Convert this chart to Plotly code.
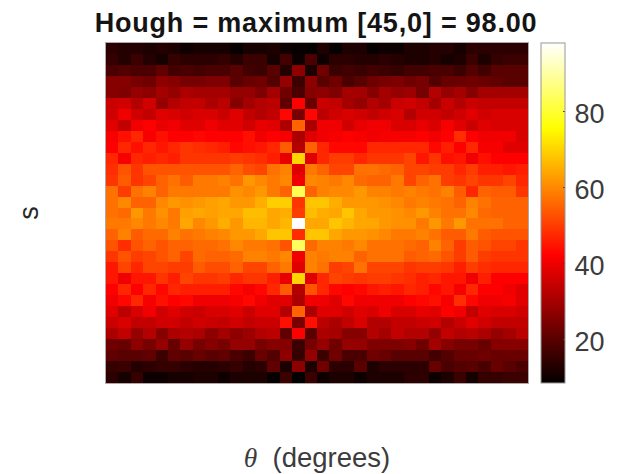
import plotly.graph_objects as go

title = "Hough = maximum [45,0] = 98.00"
x_title = '<span style="font-family:\'Liberation Serif\'"><i>θ</i></span>\u00a0 (degrees)'
y_title = "s"
cbar_ticks = [20, 40, 60, 80]
z_min, z_max = 8.5, 98

row_00 = [14,13,13,12,13,12,10,11,11,11,9,11,11,12,10,9,9,12,9,12,12,9,10,10,12,12,13,13,11,14,14,14,14,14]
row_01 = [15,13,16,13,11,15,14,14,14,15,13,16,16,11,17,10,18,10,14,14,13,13,14,13,12,12,13,11,12,16,12,15,16,16]
row_02 = [18,19,18,18,21,17,18,17,18,18,20,17,16,20,13,27,12,23,16,17,16,17,16,15,17,17,18,18,16,19,17,20,20,20]
row_03 = [26,26,24,23,27,26,24,24,25,25,20,22,23,19,28,16,27,20,23,18,20,23,24,25,23,24,19,22,22,23,22,21,20,20]
row_04 = [26,25,28,27,30,28,31,30,30,30,28,28,25,30,23,18,26,27,25,30,30,26,30,28,29,24,32,28,30,26,30,30,30,30]
row_05 = [35,36,32,36,28,32,34,34,31,33,26,30,32,33,21,42,22,35,34,30,28,32,30,35,36,34,30,35,32,35,34,34,34,34]
row_06 = [36,40,36,34,38,37,36,37,37,35,38,34,32,34,43,24,43,33,36,37,36,34,36,37,32,36,36,34,36,38,36,37,37,37]
row_07 = [38,34,40,42,39,40,38,38,40,38,38,36,39,38,31,55,31,40,40,36,39,40,40,37,37,39,37,41,38,35,38,37,37,37]
row_08 = [41,44,47,41,44,42,42,43,42,42,42,44,40,42,41,31,38,40,41,42,41,40,41,41,41,42,40,42,48,42,40,40,40,37]
row_09 = [42,47,44,47,45,47,49,48,47,46,43,44,45,47,54,32,55,47,43,43,43,47,47,47,47,47,43,46,42,47,41,41,38,38]
row_10 = [47,41,47,46,47,46,49,49,49,49,50,49,48,46,39,70,38,47,50,50,47,49,49,49,51,45,49,44,45,40,44,42,42,42]
row_11 = [48,53,49,53,53,53,53,53,53,53,55,52,51,57,59,38,58,55,51,51,57,57,56,55,51,51,50,50,47,50,46,46,45,46]
row_12 = [49,54,49,51,55,57,54,58,58,59,57,62,60,58,60,40,60,59,58,60,56,55,55,58,51,55,57,50,49,51,49,49,51,47]
row_13 = [57,50,57,59,55,58,58,58,58,58,61,60,62,58,55,83,55,59,60,60,62,59,59,58,59,58,57,59,54,47,55,54,54,49]
row_14 = [57,60,55,55,60,62,61,62,63,64,62,62,65,69,69,49,68,68,65,62,62,62,61,60,58,59,58,57,55,59,57,55,55,55]
row_15 = [57,56,62,58,61,58,63,64,63,64,64,67,67,64,65,50,67,65,64,68,64,62,62,61,60,62,59,57,57,60,56,55,55,55]
row_16 = [58,58,60,58,60,58,64,60,62,65,62,66,66,64,66,98,64,64,68,66,64,64,62,61,61,58,62,58,62,57,57,57,55,55]
row_17 = [55,59,54,56,56,59,57,58,59,60,62,62,64,68,68,48,68,68,64,62,62,61,60,58,58,59,57,54,54,58,54,53,53,53]
row_18 = [53,48,53,55,53,55,55,56,56,57,60,58,58,57,53,84,56,59,59,58,60,57,57,57,56,55,59,55,50,54,53,51,51,49]
row_19 = [49,53,50,51,53,55,51,56,55,55,56,59,59,58,60,40,59,58,59,59,55,57,57,57,54,55,56,53,50,54,50,49,49,49]
row_20 = [45,51,47,51,51,50,50,54,52,52,55,51,51,55,58,38,59,57,50,51,57,51,51,51,49,50,50,49,46,50,48,47,47,47]
row_21 = [45,40,45,45,49,46,51,49,49,50,47,49,49,46,39,70,38,47,51,50,49,50,50,49,48,46,47,45,45,40,46,42,42,42]
row_22 = [42,47,42,47,43,47,46,46,46,46,43,41,43,47,54,32,53,47,43,42,43,45,46,45,47,46,43,45,41,47,42,42,40,38]
row_23 = [40,43,47,41,44,42,43,40,40,40,41,43,40,38,38,31,40,40,38,43,40,40,40,40,42,43,44,41,48,43,40,40,41,38]
row_24 = [38,33,37,40,36,38,36,35,37,37,38,35,38,38,32,55,31,38,38,36,38,37,40,37,37,39,38,42,40,34,38,37,37,36]
row_25 = [35,37,34,34,36,36,34,36,35,34,36,34,35,35,44,24,44,33,31,34,37,32,32,34,34,35,36,32,35,38,36,34,34,34]
row_26 = [31,34,28,32,26,31,32,31,27,30,27,29,32,33,21,42,20,31,30,26,26,32,30,34,32,32,28,34,32,33,31,28,30,33]
row_27 = [23,22,27,24,28,22,28,24,26,24,28,28,24,26,26,16,24,28,23,28,28,25,25,25,26,23,30,26,24,24,22,26,26,26]
row_28 = [21,20,20,21,16,21,20,22,20,21,18,16,22,19,27,15,28,16,23,18,18,23,22,20,20,20,17,19,22,22,23,22,22,22]
row_29 = [15,16,13,14,15,15,14,13,13,14,15,13,14,21,12,27,12,23,14,14,20,12,14,14,14,14,22,18,19,20,18,22,20,18]
row_30 = [14,11,15,10,10,11,11,12,12,10,12,12,12,9,16,8.5,16,10,12,12,10,12,12,12,14,14,10,12,16,11,15,15,16,16]

z = [row_00,row_01,row_02,row_03,row_04,row_05,row_06,row_07,row_08,row_09,row_10,
     row_11,row_12,row_13,row_14,row_15,row_16,row_17,row_18,row_19,row_20,
     row_21,row_22,row_23,row_24,row_25,row_26,row_27,row_28,row_29,row_30]
for i, r in enumerate(z):
    if len(r) != 34:
        print("bad row", i, len(r))

hot = [[0, "rgb(3,0,0)"], [0.375, "rgb(255,0,0)"], [0.75, "rgb(255,255,0)"], [1, "rgb(255,255,255)"]]
GREY = "rgb(60,60,60)"
EDGE = "rgb(150,150,150)"
axis_style = dict(showticklabels=False, ticks="", showgrid=False, zeroline=False, automargin=False,
                  showline=True, mirror=True, linecolor="rgb(170,170,170)", linewidth=1)

fig = go.Figure(go.Heatmap(
    z=z, zmin=z_min, zmax=z_max, colorscale=hot, xgap=0, ygap=0,
    colorbar=dict(
        x=(541 - 106) / 422, xanchor="left", xpad=0, ypad=0, y=0.5, yanchor="middle",
        len=1, lenmode="fraction", thickness=24, thicknessmode="pixels",
        tickvals=cbar_ticks, ticks="inside", ticklen=2, tickcolor=GREY, tickwidth=1,
        tickfont=dict(family="Liberation Sans", size=27, color=GREY),
        outlinecolor=EDGE, outlinewidth=1, borderwidth=0,
    ),
))
fig.update_layout(
    width=621, height=474, autosize=False,
    margin=dict(l=106, r=93, t=43, b=91),
    paper_bgcolor="white", plot_bgcolor="white",
    font=dict(family="Liberation Sans", color=GREY),
    title=dict(text=f'<b><span style="letter-spacing:0.8px">{title}</span></b>',
               x=316 / 621, xanchor="center", y=1 - 23 / 474, yanchor="middle",
               font=dict(family="Liberation Sans", size=27, color="rgb(20,20,20)")),
    xaxis=dict(**axis_style, title=dict(text=x_title, font=dict(size=27.5, color=GREY), standoff=64)),
    yaxis=dict(**axis_style, autorange="reversed",
               title=dict(text=y_title, font=dict(size=27, color="rgb(40,40,40)"), standoff=58)),
)
shift_ticks = """
document.body.style.margin='0';
document.querySelectorAll('.colorbar .ytick text, .colorbar .cbaxis text').forEach(function(t){
  t.setAttribute('transform','translate(3,2) '+(t.getAttribute('transform')||''));
});
"""
fig.write_html("out.html", post_script=shift_ticks, config={"displayModeBar": False})
